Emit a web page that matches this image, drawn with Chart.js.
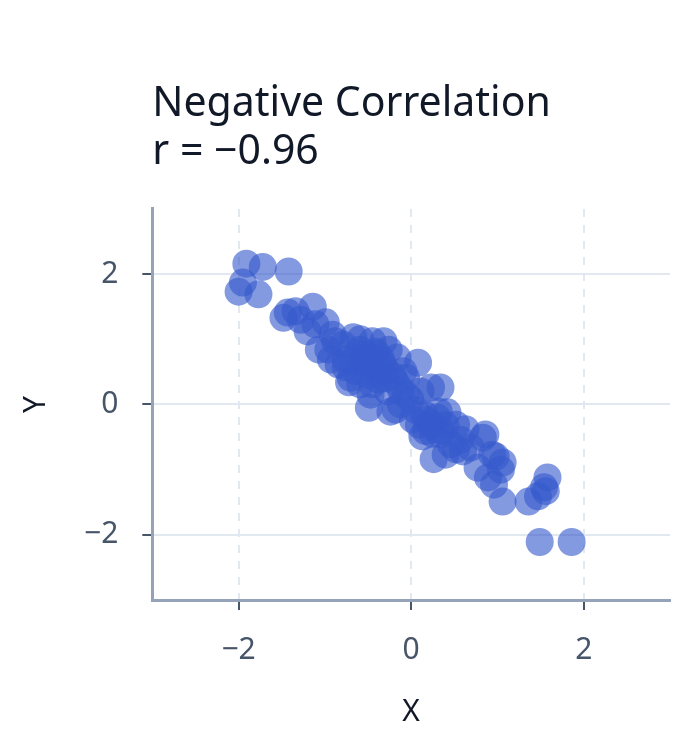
<!DOCTYPE html>
<html>
<head>
<meta charset="utf-8">
<script src="https://cdn.jsdelivr.net/npm/chart.js@4.4.0/dist/chart.umd.min.js"></script>
<style>
    html, body { margin: 0; padding: 0; background: #ffffff; }
    #wrap { width: 690px; height: 750px; }
</style>
</head>
<body>
<div id="wrap"><canvas id="scatter"></canvas></div>
<script>
// Chart text
var titleLines = ["Negative Correlation", "r = \u22120.96"];
var xLabel = "X";
var yLabel = "Y";

// Axis ranges and tick labels
var xRange = [-3, 3];
var yRange = [-3, 3];
var xTickValues = [-2, 0, 2];
var yTickValues = [-2, 0, 2];

// Sample values
var xValues = [
    -1.91, -1.72, -1.42, -1.95, -2.00, -1.77, -1.48, -1.43, -1.34, -1.14,
    -1.11, -1.20, -0.99, -1.07, -0.91, -0.79, -0.84, -0.67, -0.45, -0.32,
     0.08, -0.96, -0.76, -0.72, -0.49, -0.24, -0.09, -0.16, -0.55, -0.39,
    -0.27,  0.11,  0.23,  0.34,  0.42,  0.63,  0.86,  0.26,  0.13,  0.02,
     0.98,  1.06, -0.18, -0.21,  0.57,  0.83,  0.94,  1.04,  0.77,  0.96,
     1.06,  1.36,  1.58,  1.54,  1.47,  0.40,  1.49,  1.86, -0.59, -0.53,
    -0.47, -0.64, -0.41, -0.35, -0.30, -0.18, -0.06, -0.01, -0.12,  0.17,
     0.23,  0.28,  0.34,  0.46,  0.52,  0.69, -0.59, -0.70, -0.47, -0.38,
    -0.12,  0.05,  0.17,  0.09, -0.76, -0.68, -0.26, -0.88, -1.28, -0.93,
    -0.59, -0.45, -0.06,  0.32,  0.52,  0.60,  0.89,  1.56, -0.55, -0.45,
    -0.38, -0.50, -0.30, -0.62, -0.42, -0.33,  0.15,  0.22,  0.30,  0.35,
     0.25,  0.40
];
var yValues = [
     2.16,  2.11,  2.04,  1.87,  1.73,  1.69,  1.33,  1.41,  1.43,  1.50,
     1.23,  1.12,  1.26,  0.84,  1.07,  0.92,  0.61,  1.03,  0.97,  0.97,
     0.64,  0.84,  0.57,  0.34, -0.05, -0.11,  0.51,  0.72,  0.66,  0.46,
     0.20,  0.20,  0.26,  0.26, -0.12, -0.38, -0.46, -0.84, -0.49, -0.23,
    -0.80, -0.89, -0.08,  0.43, -0.54, -0.51, -0.77, -1.00, -0.97, -1.23,
    -1.49, -1.49, -1.12, -1.27, -1.41, -0.77, -2.11, -2.11,  0.84,  0.77,
     0.61,  0.51,  0.81,  0.69,  0.54,  0.35,  0.15,  0.08,  0.00, -0.23,
    -0.31, -0.38, -0.46, -0.61, -0.69, -0.66,  0.31,  0.41,  0.15,  0.38,
     0.23, -0.08, -0.41, -0.31,  0.69,  0.66,  0.84,  0.97,  1.30,  0.69,
     1.00,  0.31,  0.41, -0.11, -0.31, -0.72, -1.12, -1.33,  0.72,  0.62,
     0.55,  0.45,  0.40,  0.78,  0.78,  0.62, -0.15, -0.28, -0.20, -0.40,
    -0.45, -0.32
];

var points = xValues.map(function (x, i) {
    return { x: x, y: yValues[i] };
});

// Use a real minus sign for negative tick labels
function fmtTick(v) {
    return v < 0 ? "\u2212" + Math.abs(v) : String(v);
}

var fontFamily = "'Noto Sans', 'DejaVu Sans', sans-serif";

var ctx = document.getElementById("scatter").getContext("2d");
new Chart(ctx, {
    type: "scatter",
    data: {
        datasets: [{
            label: "samples",
            data: points,
            pointRadius: 14,
            pointHoverRadius: 14,
            pointBorderWidth: 0,
            backgroundColor: "rgba(55, 90, 205, 0.62)",
            borderColor: "rgba(55, 90, 205, 0.62)"
        }]
    },
    options: {
        responsive: true,
        maintainAspectRatio: false,
        animation: false,
        events: [],
        layout: {
            autoPadding: false,
            padding: { left: 18, right: 20, top: 80, bottom: 20 }
        },
        plugins: {
            legend: { display: false },
            tooltip: { enabled: false },
            title: {
                display: true,
                text: titleLines,
                align: "start",
                fullSize: false,
                color: "#111827",
                font: { family: fontFamily, size: 41, weight: "normal", lineHeight: 1.17 },
                padding: { top: 0, bottom: 33 }
            }
        },
        scales: {
            x: {
                type: "linear",
                min: xRange[0],
                max: xRange[1],
                afterBuildTicks: function (scale) {
                    scale.ticks = xTickValues.map(function (v) { return { value: v }; });
                },
                ticks: {
                    color: "#475569",
                    font: { family: fontFamily, size: 30 },
                    padding: 22,
                    callback: fmtTick
                },
                grid: {
                    color: "#e2e8f0",
                    lineWidth: 2,
                    tickColor: "#475569",
                    tickWidth: 2,
                    tickLength: 10
                },
                border: {
                    display: true,
                    color: "#94a3b8",
                    width: 3,
                    dash: [8, 8]
                },
                title: {
                    display: true,
                    text: xLabel,
                    color: "#111827",
                    font: { family: fontFamily, size: 30 },
                    padding: { top: 4, bottom: 0 }
                }
            },
            y: {
                type: "linear",
                min: yRange[0],
                max: yRange[1],
                afterBuildTicks: function (scale) {
                    scale.ticks = yTickValues.map(function (v) { return { value: v }; });
                },
                ticks: {
                    color: "#475569",
                    font: { family: fontFamily, size: 30 },
                    padding: 24,
                    callback: fmtTick
                },
                grid: {
                    color: "#e2e8f0",
                    lineWidth: 2,
                    tickColor: "#475569",
                    tickWidth: 2,
                    tickLength: 10
                },
                border: {
                    display: true,
                    color: "#94a3b8",
                    width: 3
                },
                title: {
                    display: true,
                    text: yLabel,
                    color: "#111827",
                    font: { family: fontFamily, size: 30 },
                    padding: { top: 0, bottom: 6 }
                }
            }
        }
    }
});
</script>
</body>
</html>
